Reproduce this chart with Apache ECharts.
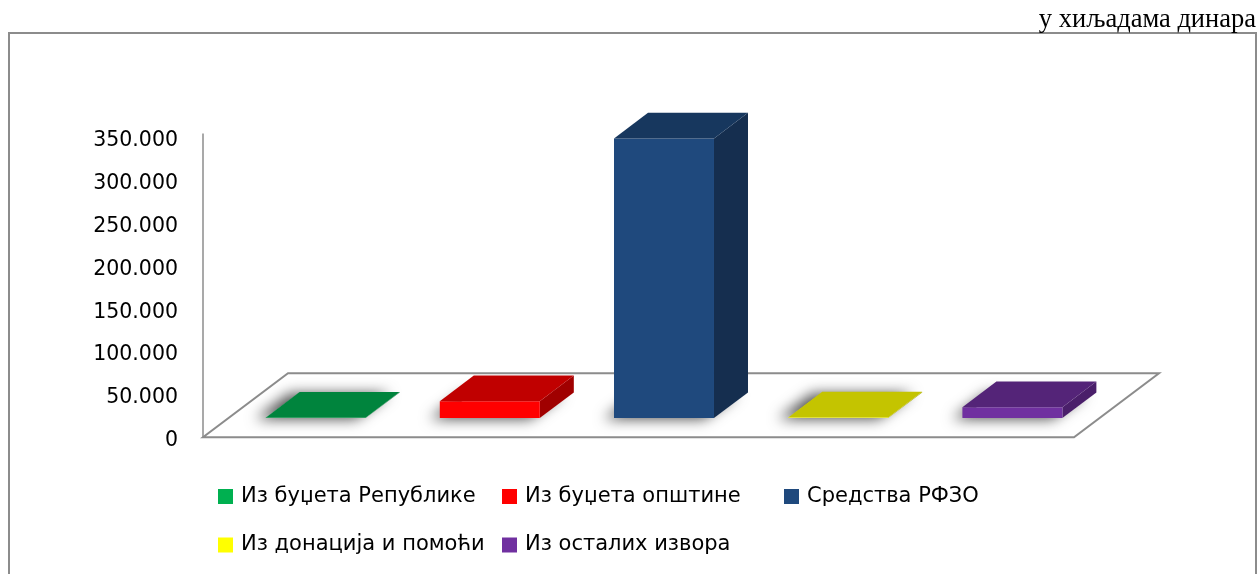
<!DOCTYPE html>
<html>
<head>
<meta charset="utf-8">
<script src="https://cdn.jsdelivr.net/npm/echarts@6/dist/echarts.min.js"></script>
<style>
  html, body { margin: 0; padding: 0; background: #fff; }
  #chart { width: 1258px; height: 574px; }
</style>
</head>
<body>
<div id="chart"></div>
<script>
// извори финансирања, у хиљадама динара
var categories = ['Из буџета Републике', 'Из буџета општине', 'Средства РФЗО', 'Из донација и помоћи', 'Из осталих извора'];
var values = [500, 19800, 326500, 800, 12800];
var yMin = 0, yMax = 350000, yStep = 50000;

var legendColors = ['#00B050', '#FF0000', '#1F497D', '#FFFF00', '#7030A0'];
var frontColors = ['#00A04A', '#FF0000', '#1F497D', '#FFFF00', '#7030A0'];
var topColors = ['#00843D', '#C00000', '#17375E', '#C4C400', '#542478'];
var sideColors = ['#006B30', '#A00000', '#152E4F', '#A6A600', '#4A1F6A'];

// 3D floor depth, pixels
var DX = 85, DY = 64;
var font = 'DejaVu Sans';

var myChart = echarts.init(document.getElementById('chart'));

function fmt(v) {
    return String(v).replace(/\B(?=(\d{3})+(?!\d))/g, '.');
}

function renderFloor(params, api) {
    var cs = params.coordSys;
    var y0 = api.coord([0, 0])[1];
    var x0 = cs.x, x1 = cs.x + cs.width;
    return {
        type: 'group',
        children: [
            {
                type: 'polygon',
                shape: { points: [[x0, y0], [x1, y0], [x1 + DX, y0 - DY], [x0 + DX, y0 - DY]] },
                style: { fill: '#fff', stroke: '#8c8c8c', lineWidth: 2 }
            },
            {
                type: 'line',
                shape: { x1: x0, y1: y0, x2: x0, y2: cs.y - 4 },
                style: { stroke: '#8c8c8c', lineWidth: 1.5 }
            }
        ]
    };
}

function makeRender(k) {
    return function (params, api) {
        var i = api.value(0);
        var top = api.coord([i, api.value(1)]);
        var base = api.coord([i, 0]);
        var band = api.size([1, 0])[0];
        var w = band * 0.574;
        var dx = DX * 0.4, dy = -DY * 0.4;
        var x0 = top[0] + DX * 0.3 - w / 2, x1 = x0 + w;
        var yb = base[1] - DY * 0.3, yt = top[1] - DY * 0.3;
        return {
            type: 'group',
            children: [
                {
                    type: 'polygon',
                    shape: { points: [[x0, yb], [x1, yb], [x1 + dx, yb + dy], [x0 + dx, yb + dy]] },
                    style: { fill: '#fff', shadowBlur: 14, shadowColor: 'rgba(0,0,0,0.7)', shadowOffsetX: -10, shadowOffsetY: 1 }
                },
                {
                    type: 'polygon',
                    shape: { points: [[x1, yb], [x1, yt], [x1 + dx, yt + dy], [x1 + dx, yb + dy]] },
                    style: { fill: sideColors[k] }
                },
                {
                    type: 'rect',
                    shape: { x: x0, y: yt, width: w, height: yb - yt },
                    style: { fill: frontColors[k] }
                },
                {
                    type: 'polygon',
                    shape: { points: [[x0, yt], [x1, yt], [x1 + dx, yt + dy], [x0 + dx, yt + dy]] },
                    style: { fill: topColors[k] }
                }
            ]
        };
    };
}

var series = [{
    type: 'custom',
    name: 'floor',
    z: 1,
    silent: true,
    renderItem: renderFloor,
    data: [[0, 0]]
}];
categories.forEach(function (c, k) {
    series.push({
        type: 'custom',
        name: c,
        z: 2,
        itemStyle: { color: legendColors[k] },
        renderItem: makeRender(k),
        data: [[k, values[k]]]
    });
});

var legendPos = [[218, 486], [502, 486], [784, 486], [218, 534.5], [502, 534.5]];
var legends = categories.map(function (c, k) {
    return {
        data: [c],
        left: legendPos[k][0],
        top: legendPos[k][1],
        padding: 0,
        icon: 'rect',
        itemWidth: 15,
        itemHeight: 15,
        selectedMode: false,
        textStyle: { fontFamily: font, fontSize: 21, color: '#000', padding: [0, 0, 0, 3] }
    };
});

var option = {
    animation: false,
    backgroundColor: '#fff',
    graphic: [
        {
            type: 'rect',
            shape: { x: 9, y: 33, width: 1247, height: 560 },
            style: { fill: 'none', stroke: '#8c8c8c', lineWidth: 2 }
        },
        {
            type: 'text',
            right: 2,
            top: 7,
            style: { text: 'у хиљадама динара', font: '26.5px "Liberation Serif"', fill: '#000' }
        }
    ],
    legend: legends,
    grid: { left: 203, right: 184, top: 137.5, bottom: 136.7, containLabel: false },
    xAxis: {
        type: 'category',
        data: categories,
        axisLine: { show: false },
        axisTick: { show: false },
        axisLabel: { show: false },
        splitLine: { show: false }
    },
    yAxis: {
        type: 'value',
        min: yMin,
        max: yMax,
        interval: yStep,
        axisLine: { show: false },
        axisTick: { show: false },
        splitLine: { show: false },
        axisLabel: { margin: 25, fontFamily: font, fontSize: 20.5, color: '#000', verticalAlign: 'top', lineHeight: 7, formatter: fmt }
    },
    series: series
};

myChart.setOption(option);
</script>
</body>
</html>
